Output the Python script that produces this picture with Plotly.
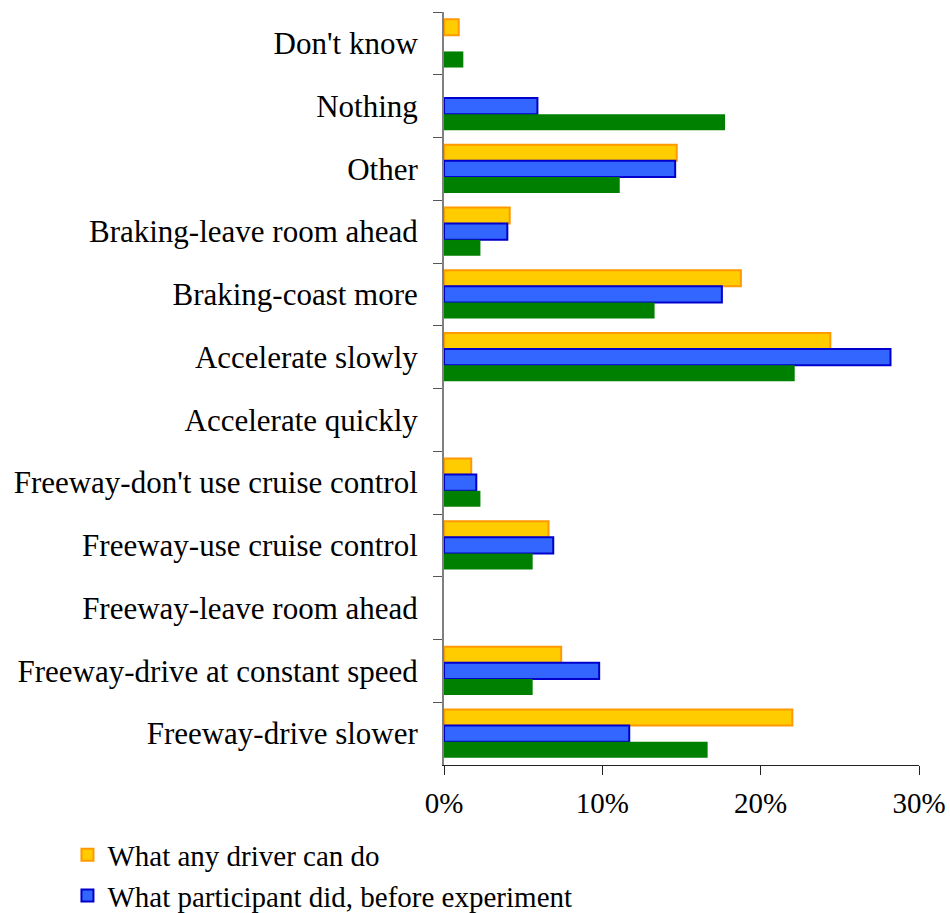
import plotly.graph_objects as go

categories = [
    "Don't know",
    "Nothing",
    "Other",
    "Braking-leave room ahead",
    "Braking-coast more",
    "Accelerate slowly",
    "Accelerate quickly",
    "Freeway-don't use cruise control",
    "Freeway-use cruise control",
    "Freeway-leave room ahead",
    "Freeway-drive at constant speed",
    "Freeway-drive slower",
]

any_driver = [0.93, 0, 14.7, 4.15, 18.75, 24.4, 0, 1.72, 6.6, 0, 7.4, 22.0]
before_exp = [0, 5.9, 14.6, 4.0, 17.55, 28.2, 0, 2.04, 6.9, 0, 9.8, 11.7]
after_exp = [1.22, 17.75, 11.1, 2.3, 13.3, 22.15, 0, 2.3, 5.6, 0, 5.6, 16.65]

x_ticks = [0, 10, 20, 30]
x_tick_labels = ["0%", "10%", "20%", "30%"]

FONT = "Liberation Serif, Times New Roman, serif"


def shown(values):
    # zero-valued bars are simply not drawn in the reference
    return [v if v > 0 else None for v in values]


fig = go.Figure()
fig.add_trace(go.Bar(
    y=categories, x=shown(any_driver), orientation="h",
    name="What any driver can do",
    marker=dict(color="#FFCC00", line=dict(color="#FF9900", width=2)),
))
fig.add_trace(go.Bar(
    y=categories, x=shown(before_exp), orientation="h",
    name="What participant did, before experiment",
    marker=dict(color="#3366FF", line=dict(color="#0000CC", width=2)),
))
fig.add_trace(go.Bar(
    y=categories, x=shown(after_exp), orientation="h",
    name="What participant did, after experiment",
    marker=dict(color="#008000", line=dict(color="#008000", width=0)),
    showlegend=False,
))

fig.update_layout(
    width=950, height=913,
    barmode="group", bargap=0.23, bargroupgap=0,
    plot_bgcolor="white", paper_bgcolor="white",
    margin=dict(l=444, r=31, t=12, b=148, autoexpand=False),
    font=dict(family=FONT, color="black", size=29),
    legend=dict(
        xref="container", yref="container",
        x=0.071, xanchor="left", y=0.0915, yanchor="top",
        font=dict(family=FONT, size=29, color="black"),
        bgcolor="rgba(0,0,0,0)", tracegroupgap=0,
    ),
    xaxis=dict(
        range=[0, 30], tickvals=x_ticks, ticktext=x_tick_labels,
        showgrid=False, zeroline=False, automargin=False,
        showline=True, linecolor="#222222", linewidth=1,
        ticks="outside", ticklen=9, tickcolor="#222222",
        ticklabelstandoff=3,
        tickfont=dict(family=FONT, size=29, color="black"),
    ),
    yaxis=dict(
        type="category", categoryorder="array", categoryarray=categories,
        autorange="reversed", automargin=False,
        showgrid=False, zeroline=False,
        showline=True, linecolor="#808080", linewidth=2,
        ticks="outside", ticklen=9, tickcolor="#555555",
        tickson="boundaries", ticklabelstandoff=18,
        tickfont=dict(family=FONT, size=31, color="black"),
    ),
)

fig.write_html(
    "out.html",
    config={"displayModeBar": False},
    post_script="document.body.style.margin='0px';document.body.style.padding='0px';",
)
